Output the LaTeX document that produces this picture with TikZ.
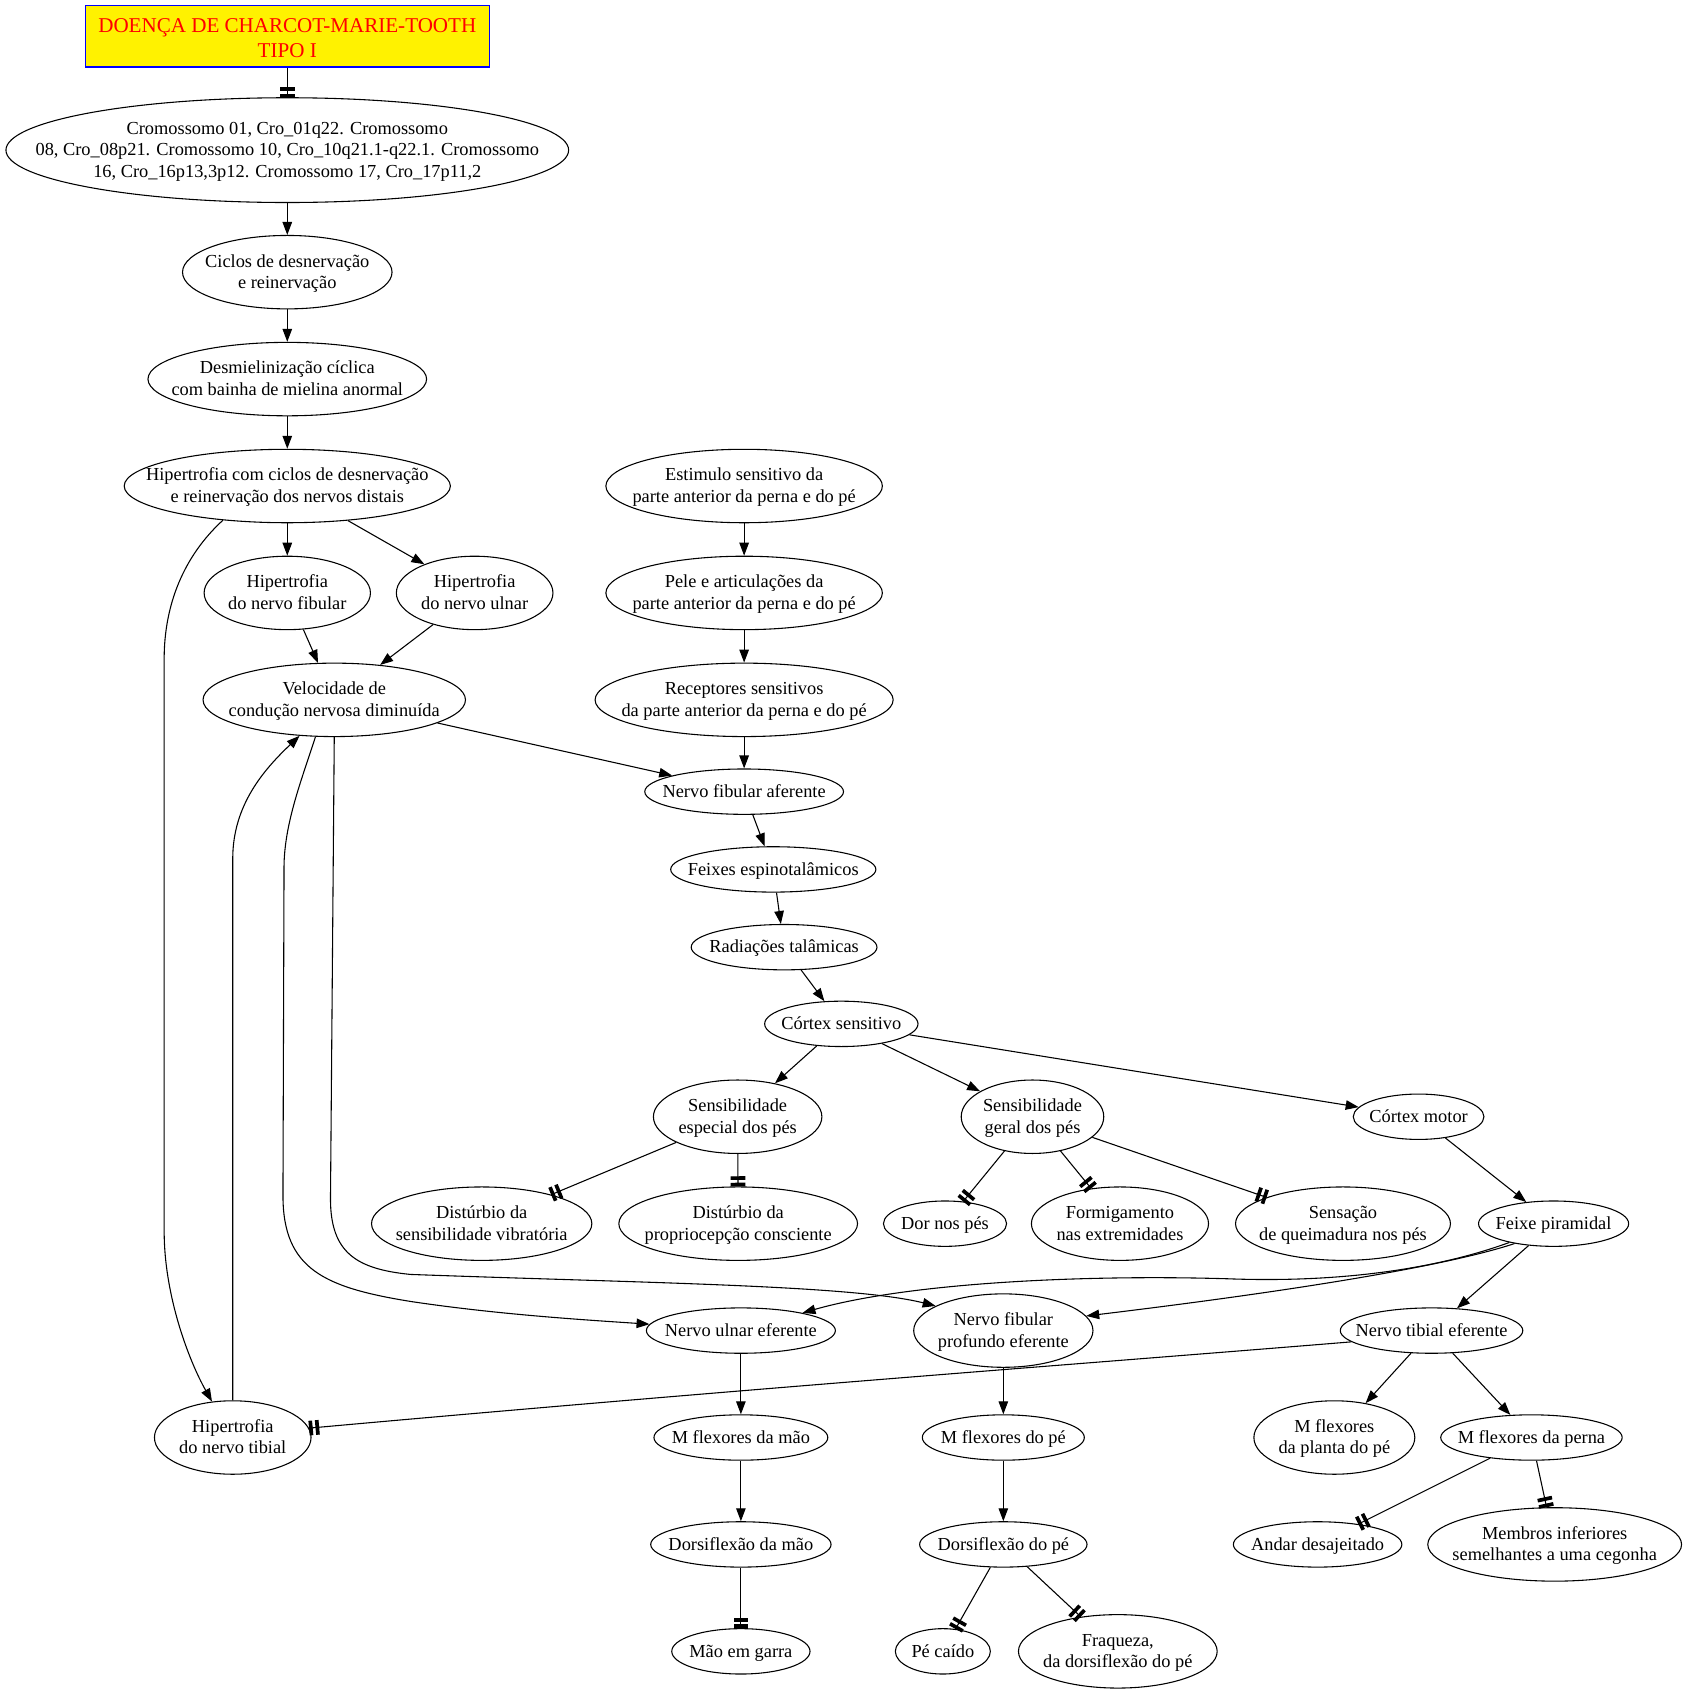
\documentclass[tikz,border=0pt]{standalone}
\usepackage{fontspec}
\setmainfont{Liberation Serif}
\usetikzlibrary{shapes.geometric,arrows.meta}
\newcommand\zt[1]{\makebox[0pt]{\raisebox{\dimexpr-0.25em-0.5pt\relax}[0pt][0pt]{\begin{tabular}{@{}c@{}}#1\end{tabular}}}}
\newcommand\ztt[1]{\makebox[0pt]{\raisebox{\dimexpr-0.25em-1.7pt\relax}[0pt][0pt]{\begin{tabular}{@{}c@{}}#1\end{tabular}}}}
\begin{document}
\begin{tikzpicture}[x=0.5pt,y=-0.5pt,
  ell/.style 2 args={ellipse,draw,line width=0.5pt,inner sep=0pt,minimum width=#1pt,minimum height=#2pt,font=\fontsize{8.5}{10}\selectfont},
  titlebox/.style={rectangle,draw=blue,fill=yellow,text=red,line width=0.5pt,inner sep=0pt,minimum width=187pt,minimum height=28.5pt,font=\fontsize{9.75}{11.5}\selectfont},
  arr/.style={-{Triangle[length=6pt,width=4.4pt]},line width=0.5pt},
  tee/.style={-{Rectangle[length=1.7pt,width=6.8pt,sep=1.3pt]Rectangle[length=1.7pt,width=6.8pt]},line width=0.5pt}]
\useasboundingbox (0,0) rectangle (1560.2,1564.8);
\fill[white] (0,0) rectangle (1560.2,1564.8);
% nodes
\node[titlebox] (title) at (266,33.5) {\ztt{DOENÇA DE CHARCOT-MARIE-TOOTH\\TIPO I}};
\node[ell={260.5}{48.5}] (cro) at (266,139) {\zt{Cromossomo 01, Cro\_01q22. Cromossomo\\08, Cro\_08p21. Cromossomo 10, Cro\_10q21.1-q22.1. Cromossomo\\16, Cro\_16p13,3p12. Cromossomo 17, Cro\_17p11,2}};
\node[ell={97}{34}] (cic) at (266,252) {\zt{Ciclos de desnervação\\e reinervação}};
\node[ell={129}{34}] (des) at (266,351) {\zt{Desmielinização cíclica\\com bainha de mielina anormal}};
\node[ell={151}{34}] (hc) at (266,450) {\zt{Hipertrofia com ciclos de desnervação\\e reinervação dos nervos distais}};
\node[ell={77}{34}] (hf) at (266,549) {\zt{Hipertrofia\\do nervo fibular}};
\node[ell={72.5}{34}] (hu) at (439.5,549) {\zt{Hipertrofia\\do nervo ulnar}};
\node[ell={121.5}{34}] (vel) at (309.5,648) {\zt{Velocidade de\\condução nervosa diminuída}};
\node[ell={128}{34}] (est) at (689,450) {\zt{Estimulo sensitivo da\\parte anterior da perna e do pé}};
\node[ell={128}{34}] (pel) at (689,549) {\zt{Pele e articulações da\\parte anterior da perna e do pé}};
\node[ell={138}{34}] (rec) at (689,648) {\zt{Receptores sensitivos\\da parte anterior da perna e do pé}};
\node[ell={92}{21}] (nfa) at (689,733) {\zt{Nervo fibular aferente}};
\node[ell={95}{21}] (fei) at (716,805) {\zt{Feixes espinotalâmicos}};
\node[ell={86}{21}] (rad) at (726,877) {\zt{Radiações talâmicas}};
\node[ell={71}{21}] (cs) at (779,948) {\zt{Córtex sensitivo}};
\node[ell={78}{34}] (se) at (683,1034) {\zt{Sensibilidade\\especial dos pés}};
\node[ell={66}{34}] (sg) at (956,1034) {\zt{Sensibilidade\\geral dos pés}};
\node[ell={60.5}{21}] (cm) at (1313.5,1034) {\zt{Córtex motor}};
\node[ell={102}{34}] (dv) at (446,1133) {\zt{Distúrbio da\\sensibilidade vibratória}};
\node[ell={110.5}{34}] (dp) at (683.5,1133) {\zt{Distúrbio da\\propriocepção consciente}};
\node[ell={57}{21}] (dor) at (875,1133) {\zt{Dor nos pés}};
\node[ell={82}{34}] (for) at (1037,1133) {\zt{Formigamento\\nas extremidades}};
\node[ell={99.5}{34}] (sq) at (1243.5,1133) {\zt{Sensação\\de queimadura nos pés}};
\node[ell={69.5}{21}] (fpir) at (1438.5,1133) {\zt{Feixe piramidal}};
\node[ell={87.5}{21}] (ue) at (686,1232) {\zt{Nervo ulnar eferente}};
\node[ell={83}{34}] (fp) at (929,1232) {\zt{Nervo fibular\\profundo eferente}};
\node[ell={84.5}{21}] (te) at (1325.5,1232) {\zt{Nervo tibial eferente}};
\node[ell={72.5}{34}] (ht) at (215.5,1331) {\zt{Hipertrofia\\do nervo tibial}};
\node[ell={80.5}{21}] (mm) at (686,1331) {\zt{M flexores da mão}};
\node[ell={75}{21}] (mp) at (929,1331) {\zt{M flexores do pé}};
\node[ell={74.5}{34}] (mpl) at (1235.5,1331) {\zt{M flexores\\da planta do pé}};
\node[ell={84}{21}] (mpe) at (1418,1331) {\zt{M flexores da perna}};
\node[ell={83.5}{21}] (dm) at (686,1430) {\zt{Dorsiflexão da mão}};
\node[ell={77.5}{21}] (dpe) at (929,1430) {\zt{Dorsiflexão do pé}};
\node[ell={78}{21}] (and) at (1220,1430) {\zt{Andar desajeitado}};
\node[ell={117.5}{34}] (mem) at (1439.5,1430) {\zt{Membros inferiores\\semelhantes a uma cegonha}};
\node[ell={64}{21}] (mg) at (686,1529) {\zt{Mão em garra}};
\node[ell={44}{21}] (pc) at (873,1529) {\zt{Pé caído}};
\node[ell={92}{34}] (fra) at (1035,1529) {\zt{Fraqueza,\\da dorsiflexão do pé}};
% edges, left part
\draw[tee] (title) -- (cro);
\draw[arr] (cro) -- (cic);
\draw[arr] (cic) -- (des);
\draw[arr] (des) -- (hc);
\draw[arr] (hc) -- (hf);
\draw[arr] (hc) -- (hu);
\draw[arr] (hf) -- (vel);
\draw[arr] (hu) -- (vel);
\draw[arr] (hc.-152) .. controls (170,515) and (152,560) .. (152,610) -- (152,1140) .. controls (152,1200) and (175,1260) .. (ht.120);
\draw[arr] (ht.north) -- (215.5,795) .. controls (215.5,745) and (245,712) .. (vel.-134);
\draw[arr] (vel) -- (nfa);
\draw[arr] (vel.-117) .. controls (280,720) and (264,760) .. (263,800) -- (262,1107) .. controls (262,1175) and (300,1192) .. (380,1205) .. controls (460,1217) and (540,1222) .. (ue.176);
\draw[arr] (vel.south) -- (306,1110) .. controls (306,1160) and (330,1175) .. (380,1180) .. controls (600,1188) and (790,1190) .. (fp.160);
% edges, right part
\draw[arr] (est) -- (pel);
\draw[arr] (pel) -- (rec);
\draw[arr] (rec) -- (nfa);
\draw[arr] (nfa) -- (fei);
\draw[arr] (fei) -- (rad);
\draw[arr] (rad) -- (cs);
\draw[arr] (cs) -- (se);
\draw[arr] (cs) -- (sg);
\draw[arr] (cs) -- (cm);
\draw[tee] (se) -- (dv);
\draw[tee] (se) -- (dp);
\draw[tee] (sg) -- (dor);
\draw[tee] (sg) -- (for);
\draw[tee] (sg) -- (sq);
\draw[arr] (cm) -- (fpir);
\draw[arr] (fpir) -- (te);
\draw[arr] (fpir.-157) .. controls (1330,1175) and (1240,1188) .. (1136,1184) .. controls (1000,1180) and (840,1188) .. (ue.16);
\draw[arr] (fpir.-153) .. controls (1340,1172) and (1200,1195) .. (fp.10);
\draw[tee] (te.-172) .. controls (1000,1263) and (700,1285) .. (ht.7);
\draw[arr] (ue) -- (mm);
\draw[arr] (mm) -- (dm);
\draw[tee] (dm) -- (mg);
\draw[arr] (fp) -- (mp);
\draw[arr] (mp) -- (dpe);
\draw[tee] (dpe) -- (pc);
\draw[tee] (dpe) -- (fra);
\draw[arr] (te) -- (mpl);
\draw[arr] (te) -- (mpe);
\draw[tee] (mpe) -- (and);
\draw[tee] (mpe) -- (mem);
\end{tikzpicture}
\end{document}
